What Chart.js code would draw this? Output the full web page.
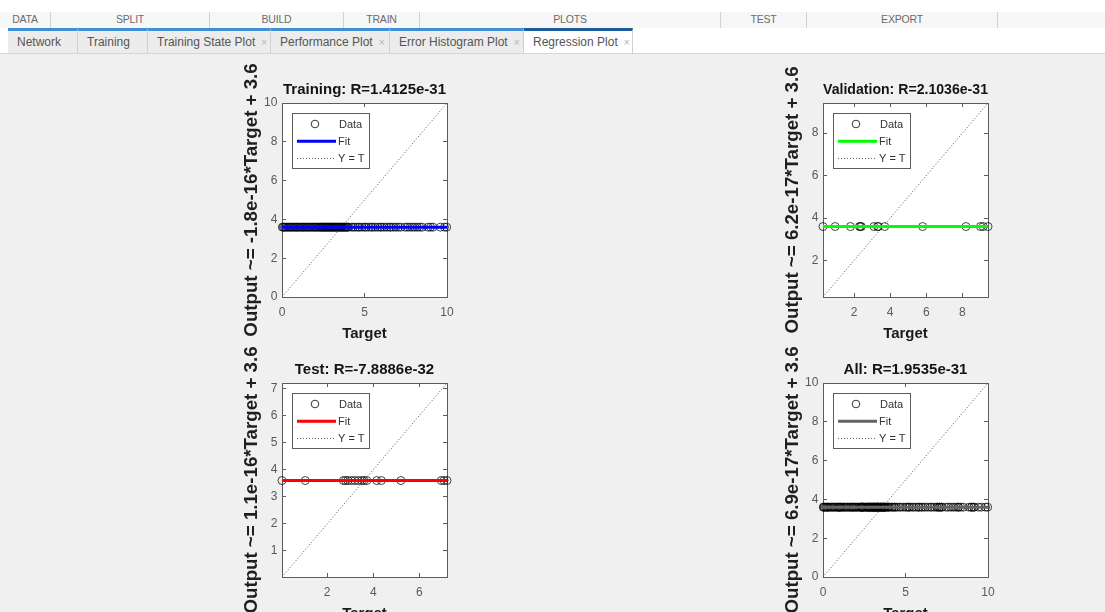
<!DOCTYPE html>
<html>
<head>
<meta charset="utf-8">
<title>Regression Plot</title>
<script src="https://cdn.jsdelivr.net/npm/chart.js@4.4.1/dist/chart.umd.min.js"></script>
<style>
  html, body { margin: 0; padding: 0; }
  body {
    width: 1105px; height: 612px; overflow: hidden; position: relative;
    background: #f0f0f0;
    font-family: "Liberation Sans", Arial, Helvetica, sans-serif;
  }
  #strip { position: absolute; left: 0; top: 0; width: 1105px; height: 28px; background: #fff; }
  #sections { position: absolute; left: 0; top: 12px; width: 1105px; height: 16px; background: #f7f7f7; }
  .sec {
    position: absolute; top: 0; height: 16px; box-sizing: border-box;
    border-right: 1px solid #d2d2d2; color: #6b6b6b; font-size: 10.5px;
    line-height: 15px; text-align: center; letter-spacing: -0.2px;
  }
  #tabbar {
    position: absolute; left: 0; top: 28px; width: 1105px; height: 26px;
    background: #fff; border-bottom: 1px solid #d6d6d6; box-sizing: border-box;
  }
  .tab {
    position: absolute; top: 0; height: 25px; box-sizing: border-box;
    background: #ececec; border-top: 3px solid #3f8fd8; border-right: 1px solid #d0d0d0;
    color: #555; font-size: 12px; line-height: 22px; padding-left: 9px; white-space: nowrap;
  }
  .tab.active { background: #fff; border-top-color: #1c5c9c; }
  .tab .x { color: #b3b3b3; font-size: 10px; margin-left: 6px; }
  canvas { position: absolute; }
</style>
</head>
<body>
<div id="strip"></div>
<div id="sections">
  <div class="sec" style="left:0;width:51px">DATA</div>
  <div class="sec" style="left:51px;width:159px">SPLIT</div>
  <div class="sec" style="left:210px;width:134px">BUILD</div>
  <div class="sec" style="left:344px;width:76px">TRAIN</div>
  <div class="sec" style="left:420px;width:301px">PLOTS</div>
  <div class="sec" style="left:721px;width:86px">TEST</div>
  <div class="sec" style="left:807px;width:191px">EXPORT</div>
</div>
<div id="tabbar">
  <div class="tab" style="left:8px;width:70px">Network</div>
  <div class="tab" style="left:78px;width:70px">Training</div>
  <div class="tab" style="left:148px;width:123px">Training State Plot<span class="x">×</span></div>
  <div class="tab" style="left:271px;width:119px">Performance Plot<span class="x">×</span></div>
  <div class="tab" style="left:390px;width:134px">Error Histogram Plot<span class="x">×</span></div>
  <div class="tab active" style="left:524px;width:109px">Regression Plot<span class="x">×</span></div>
</div>

<canvas id="trainPlot" width="240" height="290" style="left:230px;top:60px"></canvas>
<canvas id="valPlot"   width="240" height="290" style="left:771px;top:60px"></canvas>
<canvas id="testPlot"  width="240" height="290" style="left:230px;top:340px"></canvas>
<canvas id="allPlot"   width="240" height="290" style="left:771px;top:340px"></canvas>

<script>
// Network output: the trained net returns the same value for every sample.
const networkOutput = 3.6;

// Targets of each data split
const trainTargets = [
  0.02, 0.08, 0.15, 0.21, 0.30, 0.36, 0.44, 0.52, 0.58, 0.66, 0.73, 0.80, 0.88, 0.94,
  1.02, 1.09, 1.17, 1.24, 1.30, 1.38, 1.46, 1.52, 1.60, 1.67, 1.75, 1.82, 1.90, 1.97,
  2.04, 2.10, 2.18, 2.25, 2.31, 2.38, 2.42, 2.47, 2.53, 2.58, 2.64, 2.70, 2.75, 2.80,
  2.86, 2.92, 2.98, 3.03, 3.08, 3.14, 3.20, 3.25, 3.30, 3.36, 3.42, 3.48, 3.53, 3.58,
  3.64, 3.70, 3.75, 3.80, 3.86, 3.92, 3.97, 4.02,
  4.20, 4.32, 4.45, 4.60, 4.70, 4.85, 5.00, 5.10, 5.25, 5.40, 5.50, 5.65, 5.80, 5.95,
  6.05, 6.20, 6.35, 6.50, 6.60, 6.75, 6.90, 7.05, 7.20, 7.45, 7.60, 7.75, 7.90, 8.05,
  8.20, 8.35, 8.50, 8.85, 9.00, 9.15, 9.60, 9.85, 9.98
];
const valTargets = [0.28, 0.95, 1.80, 2.30, 2.35, 2.40, 3.10, 3.30, 3.35, 3.70, 5.80, 8.20, 9.00, 9.15, 9.42];
const testTargets = [0.04, 1.05, 2.70, 2.80, 2.90, 3.05, 3.20, 3.35, 3.50, 3.60, 3.72, 4.15, 4.35, 5.20, 6.95, 7.07, 7.20];
const allTargets = trainTargets.concat(valTargets, testTargets);

// Per-panel settings: Training, Validation, Test, All
const panelNames = ['Training', 'Validation', 'Test', 'All'];
const rValues = ['1.4125e-31', '2.1036e-31', '-7.8886e-32', '1.9535e-31'];
const fitSlopes = [-1.8e-16, 6.2e-17, 1.1e-16, 6.9e-17];
const fitIntercept = 3.6;
const axisLimits = [[0, 10], [0.28, 9.42], [0.04, 7.2], [0, 10]];
const xTickValues = [[0, 5, 10], [2, 4, 6, 8], [2, 4, 6], [0, 5, 10]];
const yTickValues = [[0, 2, 4, 6, 8, 10], [2, 4, 6, 8], [1, 2, 3, 4, 5, 6, 7], [0, 2, 4, 6, 8, 10]];
const fitColors = ['#0000ff', '#00ff00', '#ff0000', '#646464'];
const panelTargets = [trainTargets, valTargets, testTargets, allTargets];
const canvasIds = ['trainPlot', 'valPlot', 'testPlot', 'allPlot'];

const FONT = '"Liberation Sans", Arial, Helvetica, sans-serif';
const AXIS_COLOR = '#5c5c5c';

// White plotting area inside the axes box
const plotBackground = {
  id: 'plotBackground',
  beforeDraw(chart) {
    const { ctx, chartArea: a } = chart;
    ctx.save();
    ctx.fillStyle = '#ffffff';
    ctx.fillRect(a.left, a.top, a.width, a.height);
    ctx.restore();
  }
};

// Legend box drawn inside the upper-left corner of the axes
const insetLegend = {
  id: 'insetLegend',
  afterDraw(chart) {
    const { ctx, chartArea: a } = chart;
    const bx = Math.round(a.left) + 10.5, by = Math.round(a.top) + 10.5, bw = 77, bh = 55;
    ctx.save();
    ctx.fillStyle = '#ffffff';
    ctx.fillRect(bx, by, bw, bh);
    ctx.strokeStyle = AXIS_COLOR;
    ctx.lineWidth = 1;
    ctx.strokeRect(bx, by, bw, bh);
    ctx.font = '11px ' + FONT;
    ctx.textBaseline = 'middle';
    ctx.textAlign = 'left';
    chart.data.datasets.forEach((ds, i) => {
      const cy = by + 10.5 + i * 17.2;
      ctx.setLineDash([]);
      if (i === 0) {
        ctx.beginPath();
        ctx.arc(bx + 22.5, cy, 3.8, 0, Math.PI * 2);
        ctx.strokeStyle = '#333';
        ctx.lineWidth = 1;
        ctx.stroke();
      } else {
        ctx.beginPath();
        ctx.moveTo(bx + 4.5, cy);
        ctx.lineTo(bx + 43.5, cy);
        ctx.strokeStyle = ds.borderColor;
        ctx.lineWidth = ds.borderWidth;
        ctx.setLineDash(ds.borderDash || []);
        ctx.stroke();
      }
      ctx.setLineDash([]);
      ctx.fillStyle = '#333';
      ctx.fillText(ds.label, bx + (i === 0 ? 46.5 : 45.5), cy + 0.5);
    });
    ctx.restore();
  }
};

function fitLabel(slope, intercept) {
  return 'Output ~= ' + slope.toExponential(1) + '*Target + ' + intercept;
}

function makePanel(i) {
  const [lo, hi] = axisLimits[i];
  const slope = fitSlopes[i];
  const fitY = x => slope * x + fitIntercept;
  const xt = xTickValues[i], yt = yTickValues[i];

  const tickGrid = { display: true, drawOnChartArea: false, drawTicks: true, tickLength: -4, color: AXIS_COLOR, lineWidth: 1 };
  const boxBorder = { display: true, color: AXIS_COLOR, width: 1 };
  const tickFont = { family: FONT, size: 12 };

  new Chart(document.getElementById(canvasIds[i]), {
    type: 'scatter',
    data: {
      datasets: [
        {
          label: 'Data',
          data: panelTargets[i].map(t => ({ x: t, y: networkOutput })),
          pointStyle: 'circle',
          pointRadius: 4,
          pointBorderWidth: 1,
          pointBorderColor: 'rgba(0,0,0,0.72)',
          pointBackgroundColor: 'rgba(0,0,0,0)',
          showLine: false,
          clip: false,
          order: 2
        },
        {
          type: 'line',
          label: 'Fit',
          data: [{ x: lo, y: fitY(lo) }, { x: hi, y: fitY(hi) }],
          borderColor: fitColors[i],
          borderWidth: 3,
          pointRadius: 0,
          showLine: true,
          order: 1
        },
        {
          type: 'line',
          label: 'Y = T',
          data: [{ x: lo, y: lo }, { x: hi, y: hi }],
          borderColor: '#555555',
          borderWidth: 1,
          borderDash: [1, 2],
          pointRadius: 0,
          showLine: true,
          order: 3
        }
      ]
    },
    options: {
      responsive: false,
      animation: false,
      devicePixelRatio: 1,
      layout: { padding: { left: 0, right: 23, top: 0, bottom: 0 } },
      plugins: {
        legend: { display: false },
        tooltip: { enabled: false },
        title: {
          display: true,
          text: panelNames[i] + ': R=' + rValues[i],
          color: '#141414',
          font: { family: FONT, size: 15, weight: 'bold' },
          padding: { top: 21, bottom: 4 },
          fullSize: false
        }
      },
      scales: {
        x: {
          type: 'linear', position: 'bottom', min: lo, max: hi,
          afterBuildTicks: s => { s.ticks = xt.map(v => ({ value: v })); },
          afterFit: s => { s.height = 53; },
          grid: tickGrid, border: boxBorder,
          ticks: { color: '#595959', font: tickFont, padding: 12.5, maxRotation: 0, autoSkip: false },
          title: {
            display: true, text: 'Target', color: '#1a1a1a',
            font: { family: FONT, size: 15, weight: 'bold' },
            padding: { top: 0, bottom: 7 }
          }
        },
        x2: {
          type: 'linear', position: 'top', min: lo, max: hi,
          afterBuildTicks: s => { s.ticks = xt.map(v => ({ value: v })); },
          afterFit: s => { s.height = 0; },
          grid: tickGrid, border: boxBorder,
          ticks: { display: false }
        },
        y: {
          type: 'linear', position: 'left', min: lo, max: hi,
          afterBuildTicks: s => { s.ticks = yt.map(v => ({ value: v })); },
          afterFit: s => { s.width = 52; },
          grid: tickGrid, border: boxBorder,
          ticks: { color: '#595959', font: tickFont, padding: 8.7, autoSkip: false },
          title: {
            display: true, text: fitLabel(slope, fitIntercept), color: '#1f1f1f',
            font: { family: FONT, size: 18.7, weight: 'bold' },
            padding: { top: 10.5, bottom: 0 }
          }
        },
        y2: {
          type: 'linear', position: 'right', min: lo, max: hi,
          afterBuildTicks: s => { s.ticks = yt.map(v => ({ value: v })); },
          afterFit: s => { s.width = 0; },
          grid: tickGrid, border: boxBorder,
          ticks: { display: false }
        }
      }
    },
    plugins: [plotBackground, insetLegend]
  });
}

for (let i = 0; i < 4; i++) makePanel(i);
</script>
</body>
</html>
